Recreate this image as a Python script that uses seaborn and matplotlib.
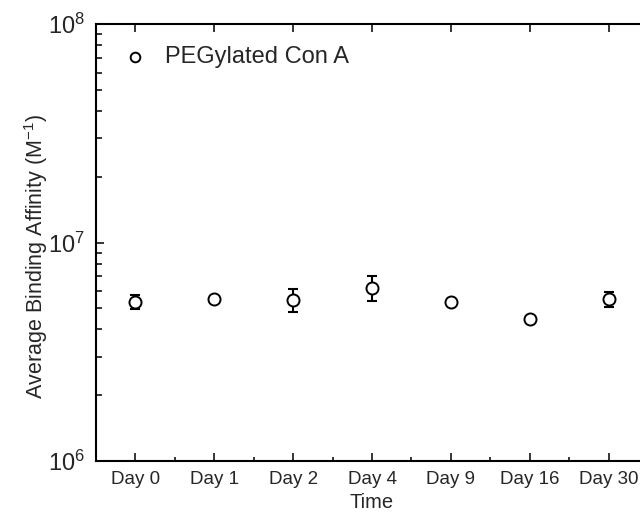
import matplotlib
matplotlib.use("Agg")
import matplotlib.pyplot as plt
import seaborn as sns
import pandas as pd
from matplotlib.ticker import LogLocator, FixedLocator, NullFormatter

sns.set_style("ticks")
plt.rcParams['font.family'] = ['Liberation Sans', 'DejaVu Sans']
plt.rcParams['mathtext.fontset'] = 'custom'
plt.rcParams['mathtext.rm'] = 'Liberation Sans'
plt.rcParams['mathtext.it'] = 'Liberation Sans'

days = ["Day 0", "Day 1", "Day 2", "Day 4", "Day 9", "Day 16", "Day 30"]
affinity = [5.37e6, 5.50e6, 5.47e6, 6.21e6, 5.36e6, 4.46e6, 5.51e6]
errors = [0.40e6, 0.0, 0.65e6, 0.80e6, 0.0, 0.0, 0.43e6]
series_label = "PEGylated Con A"

df = pd.DataFrame({"Time": days, "Affinity": affinity, "Err": errors})

fig = plt.figure(figsize=(6.4, 5.12), dpi=100)
ax = fig.add_axes([0.15, 0.0996, 0.8625, 0.8534])

pos = list(range(len(days)))
ax.errorbar(pos, df["Affinity"], yerr=df["Err"], fmt="none", ecolor="black",
            elinewidth=1.5, capsize=3.6, capthick=1.5, zorder=2)
sns.scatterplot(x=pos, y=df["Affinity"], ax=ax, marker="o", s=75,
                facecolor="white", edgecolor="black", linewidth=1.4,
                label=series_label, zorder=3)

ax.set_yscale("log")
ax.set_ylim(1e6, 1e8)
ax.set_xlim(-0.5, len(days) - 0.5)
ax.set_xticks(pos)
ax.set_xticklabels(days, fontsize=13.5)
ax.xaxis.set_minor_locator(FixedLocator([p + 0.5 for p in pos[:-1]]))
ax.yaxis.set_major_locator(FixedLocator([1e6, 1e7, 1e8]))
ax.set_yticklabels([r"$10^{6}$", r"$10^{7}$", r"$10^{8}$"], fontsize=17)
ax.yaxis.set_minor_locator(LogLocator(base=10, subs=range(2, 10)))
ax.yaxis.set_minor_formatter(NullFormatter())

ax.tick_params(axis="both", which="major", direction="in", length=6, width=1.3,
               top=True, right=False)
ax.tick_params(axis="x", which="minor", direction="in", length=3, width=1.3,
               top=False, bottom=True)
ax.tick_params(axis="y", which="minor", direction="in", length=4, width=1.3,
               right=False)
ax.tick_params(axis="y", which="major", pad=8)
ax.tick_params(axis="x", which="major", pad=7)
for s in ["left", "bottom", "top", "right"]:
    ax.spines[s].set_linewidth(1.5)
    ax.spines[s].set_color("black")

ax.set_xlabel("Time", fontsize=14.5, labelpad=3.5)
ax.set_ylabel(r"Average Binding Affinity (M$^{-1}$)", fontsize=15.5)
ax.yaxis.set_label_coords(-0.083, 0.467)

leg = ax.legend(loc="upper left", frameon=False, fontsize=17, handletextpad=0.3,
                markerscale=0.8, borderaxespad=0.0, bbox_to_anchor=(0.01, 0.972))

fig.savefig("out.png", dpi=100)
